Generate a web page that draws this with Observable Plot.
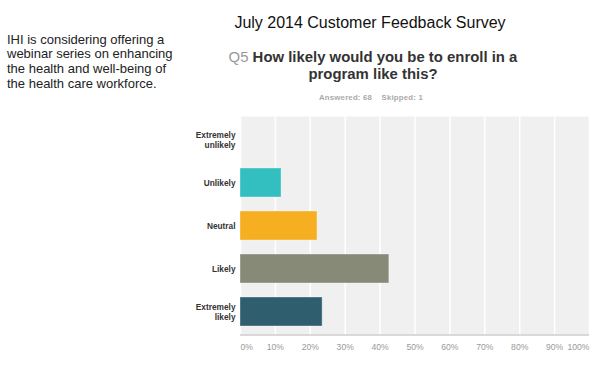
<!DOCTYPE html>
<html>
<head>
<meta charset="utf-8">
<script src="https://cdn.jsdelivr.net/npm/d3@7"></script>
<script src="https://cdn.jsdelivr.net/npm/@observablehq/plot@0.6"></script>
<style>
  html, body { margin: 0; padding: 0; background: #fff; }
  #wrap { position: relative; width: 600px; height: 379px; font-family: "Liberation Sans", Arial, sans-serif; }
  #wrap svg { position: absolute; left: 0; top: 0; }
  .ov { position: absolute; white-space: nowrap; }
</style>
</head>
<body>
<div id="wrap">
  <div id="chart"></div>
  <div class="ov" style="left:7px; top:32.5px; font-size:13px; line-height:14.7px; color:#222;">IHI is considering offering a<br>webinar series on enhancing<br>the health and well-being of<br>the health care workforce.</div>
  <div class="ov" style="left:170px; width:400px; top:15px; font-size:16px; line-height:16px; text-align:center; color:#111;">July 2014 Customer Feedback Survey</div>
  <div class="ov" style="left:173px; width:400px; top:48.5px; font-size:14.9px; line-height:17.5px; text-align:center; color:#333; font-weight:bold;"><span style="color:#999; font-weight:normal;">Q5</span> How likely would you be to enroll in a<br>program like this?</div>
  <div class="ov" style="left:221px; width:300px; top:92.5px; font-size:7.8px; line-height:9px; text-align:center; color:#aaa; font-weight:bold; letter-spacing:0.2px;">Answered: 68&nbsp;&nbsp;&nbsp;&nbsp;Skipped: 1</div>
</div>
<script>
const categories = ["Extremely unlikely", "Unlikely", "Neutral", "Likely", "Extremely likely"];
const categoryLabels = ["Extremely\nunlikely", "Unlikely", "Neutral", "Likely", "Extremely\nlikely"];
const percents = [0, 11.76, 22.06, 42.65, 23.53];
const barColors = ["#5b9bd5", "#33bfbf", "#f6af21", "#888a78", "#2f5f6e"];
const tickValues = [0, 10, 20, 30, 40, 50, 60, 70, 80, 90, 100];
const tickLabels = ["0%", "10%", "20%", "30%", "40%", "50%", "60%", "70%", "80%", "90%", "100%"];

const data = categories.map((c, i) => ({category: c, pct: percents[i]}));
const labelOf = new Map(categories.map((c, i) => [c, categoryLabels[i]]));
const midTicks = tickValues.slice(1, -1);

const plot = Plot.plot({
  width: 600,
  height: 379,
  marginLeft: 240,
  marginRight: 11,
  marginTop: 116,
  marginBottom: 44,
  style: {fontFamily: "Liberation Sans, Arial, sans-serif", background: "transparent"},
  x: {domain: [0, 100], axis: null},
  y: {domain: categories, paddingInner: 0.32, paddingOuter: 0.16, label: null},
  color: {domain: categories, range: barColors},
  marks: [
    Plot.frame({fill: "#f0f0f0", stroke: null}),
    Plot.ruleX(tickValues, {stroke: "#fff", strokeWidth: 1.5}),
    Plot.barX(data, {y: "category", x: "pct", fill: "category", stroke: "#ffffff", strokeOpacity: 0.35, strokeWidth: 1}),
    Plot.axisY({tickSize: 0, tickPadding: 5, fontSize: 8.3, fontWeight: "bold", fill: "#333", lineHeight: 1.2, tickFormat: d => labelOf.get(d), label: null}),
    Plot.text(midTicks, {x: d => d, frameAnchor: "bottom", dy: 14, text: d => tickLabels[tickValues.indexOf(d)], fill: "#999", fontSize: 8.6}),
    Plot.text([tickValues[0]], {x: d => d, frameAnchor: "bottom", dy: 14, text: d => tickLabels[0], fill: "#999", fontSize: 8.6, textAnchor: "start"}),
    Plot.text([tickValues[tickValues.length - 1]], {x: d => d, frameAnchor: "bottom", dy: 14, text: d => tickLabels[tickLabels.length - 1], fill: "#999", fontSize: 8.6, textAnchor: "end"})
  ]
});

// bottom baseline drawn through the plot's own x scale
const xs = plot.scale("x");
d3.select(plot).append("line")
  .attr("x1", xs.apply(0)).attr("x2", xs.apply(100))
  .attr("y1", 379 - 44).attr("y2", 379 - 44)
  .attr("stroke", "#d0d0d0").attr("stroke-width", 1.5);

document.getElementById("chart").appendChild(plot);
</script>
</body>
</html>
